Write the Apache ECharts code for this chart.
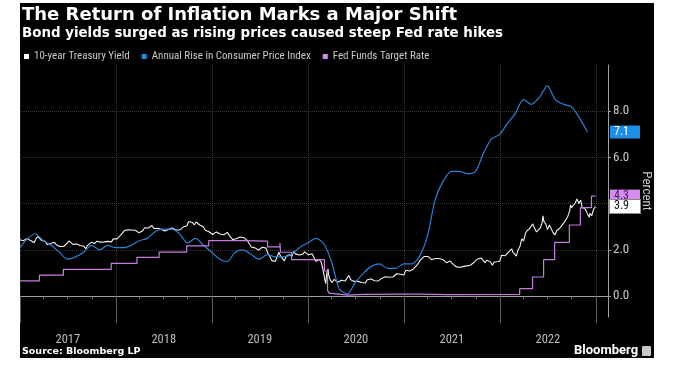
<!DOCTYPE html>
<html><head><meta charset="utf-8">
<script src="https://cdn.jsdelivr.net/npm/echarts@6/dist/echarts.min.js"></script>
<style>
html,body{margin:0;padding:0;background:#fff;width:680px;height:372px;overflow:hidden}
#bg{position:absolute;left:20px;top:3px;width:634px;height:355px;background:#000}
#chart{width:634px;height:355px}
</style></head><body>
<div id="bg"><div id="chart"></div></div>
<script>
// ---------- DATA ----------
const years = ['2017','2018','2019','2020','2021','2022'];
const yearStarts = ['2017-01-01','2018-01-01','2019-01-01','2020-01-01','2021-01-01','2022-01-01','2023-01-01'];
const yearMids = ['2017-07-02','2018-07-02','2019-07-02','2020-07-02','2021-07-02','2022-07-02'];
const quarterTicks = ['2017-04-01','2017-07-01','2017-10-01','2018-04-01','2018-07-01','2018-10-01',
  '2019-04-01','2019-07-01','2019-10-01','2020-04-01','2020-07-01','2020-10-01',
  '2021-04-01','2021-07-01','2021-10-01','2022-04-01','2022-07-01','2022-10-01'];
const yTicks = [0, 2, 4, 6, 8];

// 10-year Treasury yield (weekly closes, %)
const tyDates = ['2016-12-30',
 '2017-01-06','2017-01-13','2017-01-20','2017-01-27','2017-02-03','2017-02-10','2017-02-17','2017-02-24',
 '2017-03-03','2017-03-10','2017-03-17','2017-03-24','2017-03-31','2017-04-07','2017-04-14','2017-04-21','2017-04-28',
 '2017-05-05','2017-05-12','2017-05-19','2017-05-26','2017-06-02','2017-06-09','2017-06-16','2017-06-23','2017-06-30',
 '2017-07-07','2017-07-14','2017-07-21','2017-07-28','2017-08-04','2017-08-11','2017-08-18','2017-08-25',
 '2017-09-01','2017-09-08','2017-09-15','2017-09-22','2017-09-29','2017-10-06','2017-10-13','2017-10-20','2017-10-27',
 '2017-11-03','2017-11-10','2017-11-17','2017-11-24','2017-12-01','2017-12-08','2017-12-15','2017-12-22','2017-12-29',
 '2018-01-05','2018-01-12','2018-01-19','2018-01-26','2018-02-02','2018-02-09','2018-02-16','2018-02-23',
 '2018-03-02','2018-03-09','2018-03-16','2018-03-23','2018-03-30','2018-04-06','2018-04-13','2018-04-20','2018-04-27',
 '2018-05-04','2018-05-11','2018-05-18','2018-05-25','2018-06-01','2018-06-08','2018-06-15','2018-06-22','2018-06-29',
 '2018-07-06','2018-07-13','2018-07-20','2018-07-27','2018-08-03','2018-08-10','2018-08-17','2018-08-24','2018-08-31',
 '2018-09-07','2018-09-14','2018-09-21','2018-09-28','2018-10-05','2018-10-12','2018-10-19','2018-10-26',
 '2018-11-02','2018-11-09','2018-11-16','2018-11-23','2018-11-30','2018-12-07','2018-12-14','2018-12-21','2018-12-28',
 '2019-01-04','2019-01-11','2019-01-18','2019-01-25','2019-02-01','2019-02-08','2019-02-15','2019-02-22',
 '2019-03-01','2019-03-08','2019-03-15','2019-03-22','2019-03-29','2019-04-05','2019-04-12','2019-04-19','2019-04-26',
 '2019-05-03','2019-05-10','2019-05-17','2019-05-24','2019-05-31','2019-06-07','2019-06-14','2019-06-21','2019-06-28',
 '2019-07-05','2019-07-12','2019-07-19','2019-07-26','2019-08-02','2019-08-09','2019-08-16','2019-08-23','2019-08-30',
 '2019-09-06','2019-09-13','2019-09-20','2019-09-27','2019-10-04','2019-10-11','2019-10-18','2019-10-25',
 '2019-11-01','2019-11-08','2019-11-15','2019-11-22','2019-11-29','2019-12-06','2019-12-13','2019-12-20','2019-12-27',
 '2020-01-03','2020-01-10','2020-01-17','2020-01-24','2020-01-31','2020-02-07','2020-02-14','2020-02-21','2020-02-28',
 '2020-03-06','2020-03-09','2020-03-13','2020-03-18','2020-03-20','2020-03-27','2020-04-03','2020-04-10','2020-04-17','2020-04-24',
 '2020-05-01','2020-05-08','2020-05-15','2020-05-22','2020-05-29','2020-06-05','2020-06-12','2020-06-19','2020-06-26',
 '2020-07-02','2020-07-10','2020-07-17','2020-07-24','2020-07-31','2020-08-07','2020-08-14','2020-08-21','2020-08-28',
 '2020-09-04','2020-09-11','2020-09-18','2020-09-25','2020-10-02','2020-10-09','2020-10-16','2020-10-23','2020-10-30',
 '2020-11-06','2020-11-13','2020-11-20','2020-11-27','2020-12-04','2020-12-11','2020-12-18','2020-12-24','2020-12-31',
 '2021-01-08','2021-01-15','2021-01-22','2021-01-29','2021-02-05','2021-02-12','2021-02-19','2021-02-26',
 '2021-03-05','2021-03-12','2021-03-19','2021-03-26','2021-04-02','2021-04-09','2021-04-16','2021-04-23','2021-04-30',
 '2021-05-07','2021-05-14','2021-05-21','2021-05-28','2021-06-04','2021-06-11','2021-06-18','2021-06-25',
 '2021-07-02','2021-07-09','2021-07-16','2021-07-23','2021-07-30','2021-08-06','2021-08-13','2021-08-20','2021-08-27',
 '2021-09-03','2021-09-10','2021-09-17','2021-09-24','2021-10-01','2021-10-08','2021-10-15','2021-10-22','2021-10-29',
 '2021-11-05','2021-11-12','2021-11-19','2021-11-26','2021-12-03','2021-12-10','2021-12-17','2021-12-23','2021-12-31',
 '2022-01-07','2022-01-14','2022-01-21','2022-01-28','2022-02-04','2022-02-11','2022-02-15','2022-02-18','2022-02-25',
 '2022-03-04','2022-03-11','2022-03-18','2022-03-25','2022-04-01','2022-04-08','2022-04-14','2022-04-22','2022-04-29',
 '2022-05-06','2022-05-13','2022-05-20','2022-05-27','2022-06-03','2022-06-10','2022-06-14','2022-06-17','2022-06-24',
 '2022-07-01','2022-07-08','2022-07-15','2022-07-22','2022-07-29','2022-08-01','2022-08-05','2022-08-12','2022-08-19','2022-08-26',
 '2022-09-02','2022-09-09','2022-09-16','2022-09-23','2022-09-27','2022-09-30','2022-10-07','2022-10-14','2022-10-21','2022-10-24','2022-10-28',
 '2022-11-04','2022-11-10','2022-11-18','2022-11-25','2022-12-02','2022-12-07','2022-12-09','2022-12-16','2022-12-23','2022-12-30'];
const tyValues = [2.45,
 2.42,2.40,2.47,2.49, 2.49,2.41,2.42,2.31, 2.49,2.58,2.50,2.41,2.39, 2.38,2.24,2.24,2.28,
 2.35,2.33,2.23,2.25, 2.15,2.20,2.15,2.14,2.30, 2.39,2.33,2.24,2.29, 2.26,2.19,2.19,2.17,
 2.16,2.05,2.20,2.25,2.33, 2.36,2.28,2.38,2.42, 2.34,2.40,2.35,2.34, 2.37,2.38,2.35,2.48,2.41,
 2.48,2.55,2.64,2.66, 2.84,2.85,2.87,2.88, 2.86,2.90,2.85,2.82,2.74, 2.77,2.83,2.96,2.96,
 2.95,2.97,3.06,2.93, 2.90,2.94,2.92,2.89,2.85, 2.82,2.83,2.89,2.96, 2.95,2.87,2.86,2.81,2.86,
 2.94,2.99,3.07,3.05, 3.23,3.16,3.19,3.08, 3.21,3.19,3.08,3.05,2.99, 2.85,2.89,2.79,2.72,
 2.67,2.70,2.78,2.76, 2.69,2.63,2.66,2.65, 2.76,2.63,2.59,2.44,2.41, 2.50,2.56,2.56,2.50,
 2.53,2.46,2.39,2.32,2.13, 2.08,2.09,2.05,2.00, 2.04,2.12,2.05,2.08, 1.86,1.74,1.55,1.52,1.50,
 1.56,1.90,1.72,1.68, 1.53,1.73,1.75,1.80, 1.71,1.94,1.83,1.77,1.78, 1.84,1.82,1.92,1.88,
 1.79,1.82,1.84,1.68,1.51, 1.58,1.59,1.47,1.13,
 0.71,0.54,0.96,1.18,0.92,0.68, 0.59,0.73,0.65,0.60,
 0.62,0.69,0.64,0.66,0.65, 0.90,0.71,0.69,0.64, 0.67,0.64,0.63,0.59,0.55, 0.57,0.71,0.64,0.74,
 0.72,0.67,0.69,0.66, 0.70,0.78,0.74,0.84,0.87, 0.82,0.89,0.83,0.84, 0.97,0.90,0.95,0.94,0.92,
 1.12,1.09,1.09,1.07, 1.17,1.20,1.34,1.41, 1.57,1.63,1.72,1.67, 1.72,1.66,1.58,1.56,1.63,
 1.58,1.63,1.62,1.59, 1.55,1.45,1.44,1.52, 1.43,1.36,1.29,1.28,1.24, 1.30,1.28,1.26,1.31,
 1.32,1.34,1.37,1.46, 1.47,1.61,1.57,1.65,1.55, 1.45,1.56,1.54,1.48, 1.34,1.48,1.40,1.49,1.51,
 1.77,1.78,1.75,1.78, 1.93,1.94,2.05,1.93,1.97, 1.73,2.00,2.15,2.48, 2.39,2.72,2.83,2.90,2.93,
 3.13,2.93,2.78,2.74, 2.94,3.16,3.48,3.23,3.13, 2.88,3.08,2.92,2.75,2.65, 2.57,2.83,2.84,2.98,3.03,
 3.19,3.31,3.45,3.69,3.95,3.83, 3.88,4.02,4.21,4.24,4.01, 4.16,3.82,3.83,3.68, 3.51,3.42,3.58,3.48,3.75,3.88];

// CPI, year-over-year % (monthly, plotted at month end)
const cpiMonths = ['2016-12',
 '2017-01','2017-02','2017-03','2017-04','2017-05','2017-06','2017-07','2017-08','2017-09','2017-10','2017-11','2017-12',
 '2018-01','2018-02','2018-03','2018-04','2018-05','2018-06','2018-07','2018-08','2018-09','2018-10','2018-11','2018-12',
 '2019-01','2019-02','2019-03','2019-04','2019-05','2019-06','2019-07','2019-08','2019-09','2019-10','2019-11','2019-12',
 '2020-01','2020-02','2020-03','2020-04','2020-05','2020-06','2020-07','2020-08','2020-09','2020-10','2020-11','2020-12',
 '2021-01','2021-02','2021-03','2021-04','2021-05','2021-06','2021-07','2021-08','2021-09','2021-10','2021-11','2021-12',
 '2022-01','2022-02','2022-03','2022-04','2022-05','2022-06','2022-07','2022-08','2022-09','2022-10','2022-11'];
const cpiValues = [2.1,
 2.5,2.7,2.4,2.2,1.9,1.6,1.7,1.9,2.2,2.0,2.2,2.1,
 2.1,2.2,2.4,2.5,2.8,2.9,2.9,2.7,2.3,2.5,2.2,1.9,
 1.6,1.5,1.9,2.0,1.8,1.6,1.8,1.7,1.7,1.8,2.1,2.3,
 2.5,2.3,1.5,0.3,0.1,0.6,1.0,1.3,1.4,1.2,1.2,1.4,
 1.4,1.7,2.6,4.2,5.0,5.4,5.4,5.3,5.4,6.2,6.8,7.0,
 7.5,7.9,8.5,8.3,8.6,9.1,8.5,8.3,8.2,7.7,7.1];

// Fed funds (effective) rate change dates and levels
const ffDates = ['2017-01-01','2017-03-16','2017-06-15','2017-12-14','2018-03-22','2018-06-14','2018-09-27','2018-12-20',
 '2019-05-02','2019-08-01','2019-09-17','2019-09-18','2019-09-19','2019-10-31','2020-03-04','2020-03-16','2020-03-23',
 '2020-04-01','2020-06-01','2020-08-01','2021-01-01','2021-03-01','2021-06-17','2022-03-17','2022-05-05','2022-06-16',
 '2022-07-28','2022-09-22','2022-11-03','2022-12-15','2022-12-30'];
const ffValues = [0.66,0.91,1.16,1.42,1.68,1.91,2.18,2.40,
 2.38,2.13,2.30,2.25,1.90,1.58,1.09,0.25,0.12,
 0.05,0.08,0.09,0.09,0.07,0.08,0.33,0.83,1.58,
 2.33,3.08,3.83,4.33,4.33];

// ---------- BUILD ----------
const ts = s => { const p = s.split('-').map(Number); return new Date(p[0], p[1]-1, p[2] || 1).getTime(); };
const monthEnd = s => { const p = s.split('-').map(Number); return new Date(p[0], p[1], 0).getTime(); };

const tyData = tyDates.map((d,i) => [ts(d), tyValues[i]]);
const cpiData = cpiMonths.map((m,i) => [monthEnd(m), cpiValues[i]]);
const ffData = ffDates.map((d,i) => [ts(d), ffValues[i]]);

const lastTy = tyValues[tyValues.length-1];
const lastCpi = cpiValues[cpiValues.length-1];
const lastFf = ffValues[ffValues.length-1];

const X_MIN = ts('2017-01-01'), X_MAX = ts('2023-02-16');
const Y_MIN = -0.9, Y_MAX = 10;
const AXIS_GREY = '#a0a0a0';
const TXT = '#c8c8c8';
const NARROW = "'Liberation Sans Narrow', 'Roboto Condensed', Roboto, sans-serif";

const COL_TY = '#f2f2f2', COL_CPI = '#2a80d2', COL_FF = '#c67ddf';

function flagAxis(val, bg, fg, border) {
  return {
    type:'value', position:'right', min:Y_MIN, max:Y_MAX,
    axisLine:{show:false}, axisTick:{show:false}, splitLine:{show:false},
    axisLabel:{customValues:[val], formatter: v => v.toFixed(1), color:fg, backgroundColor:bg,
      borderColor:border || bg, borderWidth: border ? 1 : 0,
      padding:[1,11,0,4], margin:2, fontSize:12, lineHeight:12, fontFamily:NARROW}
  };
}

const chart = echarts.init(document.getElementById('chart'), null, {renderer:'canvas'});
chart.setOption({
  backgroundColor:'#000',
  animation:false,
  title:[
    {text:'The Return of Inflation Marks a Major Shift', left:2, top:3, padding:0,
     textStyle:{color:'#fff', fontSize:18, fontWeight:'bold', fontFamily:'DejaVu Sans'}},
    {text:'Bond yields surged as rising prices caused steep Fed rate hikes', left:2, top:24, padding:0,
     textStyle:{color:'#fff', fontSize:13.4, fontWeight:'bold', fontFamily:'DejaVu Sans'}},
    {text:'Source: Bloomberg LP', left:2, top:344, padding:0,
     textStyle:{color:'#fff', fontSize:9.5, fontWeight:'bold', fontFamily:'DejaVu Sans'}},
    {text:'Bloomberg', left:554, top:341, padding:0,
     textStyle:{color:'#fff', fontSize:13, fontWeight:'bold', fontFamily:'Roboto'}}
  ],
  graphic:[{type:'rect', left:622, top:343, shape:{width:9, height:10, r:1}, style:{fill:'#c8c8c8'}}],
  legend:{left:4, top:48, padding:0, itemWidth:5, itemHeight:5, itemGap:12, icon:'rect',
    textStyle:{color:TXT, fontSize:11, fontFamily:NARROW},
    data:['10-year Treasury Yield','Annual Rise in Consumer Price Index','Fed Funds Target Rate']},
  grid:{left:0, right:46, top:62, bottom:41, containLabel:false, outerBoundsMode:'none'},
  xAxis:[
    {type:'value', min:X_MIN, max:X_MAX, position:'bottom',
     axisLine:{show:true, lineStyle:{color:AXIS_GREY, width:1}},
     axisTick:{show:true, customValues:yearStarts.map(ts), length:27, lineStyle:{color:'#5e5e5e'}},
     axisLabel:{show:true, customValues:yearMids.map(ts), formatter:(v) => String(new Date(v).getFullYear()),
       color:'#bdbdbd', fontSize:12.5, margin:16, fontFamily:NARROW},
     splitLine:{show:true, lineStyle:{color:'#3a3a3a', type:'dotted'}}},
    {type:'value', min:X_MIN, max:X_MAX, position:'bottom',
     axisLine:{show:false}, axisLabel:{show:false}, splitLine:{show:false},
     axisTick:{show:true, customValues:quarterTicks.map(ts), length:3, lineStyle:{color:'#808080'}}}
  ],
  yAxis:[
    {type:'value', position:'right', min:Y_MIN, max:Y_MAX,
     axisLine:{show:true, lineStyle:{color:AXIS_GREY}},
     axisTick:{show:true, customValues:yTicks, length:3, lineStyle:{color:AXIS_GREY}},
     axisLabel:{customValues:yTicks, formatter:v => (v === 4 ? '' : v.toFixed(1)), color:TXT, fontSize:13, margin:5, fontFamily:NARROW},
     splitLine:{show:true, lineStyle:{color:'#3a3a3a', type:'dotted'}},
     name:'Percent', nameLocation:'middle', nameRotate:-90, nameGap:32,
     nameTextStyle:{color:TXT, fontSize:13, fontFamily:NARROW}},
    flagAxis(lastCpi, '#1b8fe8', '#ffffff'),
    flagAxis(lastFf, '#d78cf2', '#4a1b5e'),
    flagAxis(lastTy, '#ffffff', '#111111', '#888888')
  ],
  series:[
    {name:'10-year Treasury Yield', type:'line', data:tyData, showSymbol:false, symbol:'none',
     lineStyle:{color:COL_TY, width:1.1}, itemStyle:{color:'#ffffff'}},
    {name:'Annual Rise in Consumer Price Index', type:'line', data:cpiData, showSymbol:false, symbol:'none', smooth:0.25,
     lineStyle:{color:COL_CPI, width:1.2}, itemStyle:{color:'#1b8fe8'}},
    {name:'Fed Funds Target Rate', type:'line', step:'end', data:ffData, showSymbol:false, symbol:'none',
     lineStyle:{color:COL_FF, width:1.2}, itemStyle:{color:'#d78cf2'}}
  ]
});
</script></body></html>
